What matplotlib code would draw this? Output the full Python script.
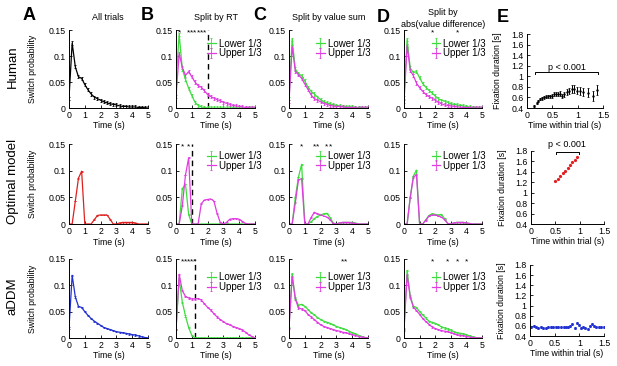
import matplotlib
matplotlib.use("Agg")
import matplotlib.pyplot as plt

plt.rcParams['font.family'] = ['Liberation Sans', 'DejaVu Sans']
plt.rcParams['font.size'] = 6.3
plt.rcParams['axes.linewidth'] = 0.7

# time bins (s) of the switch-probability curves
TIME_BINS = [0.0, 0.2, 0.4, 0.6, 0.8, 1.0, 1.2, 1.4, 1.6, 1.8, 2.0, 2.2, 2.4,
             2.6, 2.8, 3.0, 3.2, 3.4, 3.6, 3.8, 4.0, 4.2, 4.4, 4.6, 4.8, 5.0]

# --- Human ---
HUMAN_ALL = [0.019, 0.125, 0.079, 0.060, 0.057, 0.045, 0.035, 0.027, 0.021, 0.018, 0.015, 0.012, 0.010,
             0.008, 0.007, 0.006, 0.004, 0.003, 0.003, 0.002, 0.002, 0.002, 0.001, 0.001, 0.0005, 0.0]
HUMAN_RT_LOW = [0.05, 0.142, 0.075, 0.055, 0.038, 0.024, 0.011, 0.005, 0.002, 0.001, 0.0, 0.0, 0.0,
                0.0, 0.0, 0.0, 0.0, 0.0, 0.0, 0.0, 0.0, 0.0, 0.0, 0.0, 0.0, 0.0]
HUMAN_RT_HIGH = [0.022, 0.105, 0.078, 0.063, 0.070, 0.060, 0.050, 0.043, 0.040, 0.033, 0.026, 0.022, 0.019,
                 0.016, 0.014, 0.011, 0.009, 0.007, 0.005, 0.004, 0.003, 0.002, 0.001, 0.0005, 0.0, 0.0]
HUMAN_SUM_LOW = [0.018, 0.132, 0.075, 0.066, 0.062, 0.052, 0.040, 0.032, 0.027, 0.021, 0.016, 0.012, 0.010,
                 0.008, 0.006, 0.005, 0.004, 0.003, 0.002, 0.002, 0.002, 0.001, 0.001, 0.001, 0.0, 0.0]
HUMAN_SUM_HIGH = [0.012, 0.118, 0.071, 0.064, 0.057, 0.046, 0.036, 0.025, 0.018, 0.015, 0.012, 0.009, 0.007,
                  0.005, 0.004, 0.003, 0.003, 0.002, 0.001, 0.001, 0.001, 0.0005, 0.0, 0.0, 0.0, 0.0]
HUMAN_DIFF_LOW = [0.02, 0.132, 0.077, 0.068, 0.070, 0.058, 0.047, 0.040, 0.034, 0.029, 0.023, 0.018, 0.015,
                  0.013, 0.011, 0.008, 0.007, 0.006, 0.005, 0.004, 0.003, 0.002, 0.001, 0.001, 0.0, 0.0]
HUMAN_DIFF_HIGH = [0.012, 0.12, 0.072, 0.062, 0.048, 0.039, 0.032, 0.026, 0.022, 0.019, 0.015, 0.011, 0.008,
                   0.006, 0.005, 0.004, 0.003, 0.002, 0.002, 0.001, 0.001, 0.001, 0.0, 0.0, 0.0, 0.0]

# --- Optimal model ---
MODEL_ALL = [0.0, 0.0, 0.043, 0.086, 0.099, 0.0, 0.0, 0.0, 0.008, 0.016, 0.017, 0.017, 0.017,
             0.009, 0.0, 0.0, 0.002, 0.003, 0.003, 0.003, 0.003, 0.002, 0.0, 0.0, 0.0, 0.0]
MODEL_RT_LOW = [0.0, 0.0, 0.066, 0.075, 0.018, 0.0, 0.0, 0.0, 0.0, 0.0, 0.0, 0.0, 0.0,
                0.0, 0.0, 0.0, 0.0, 0.0, 0.0, 0.0, 0.0, 0.0, 0.0, 0.0, 0.0, 0.0]
MODEL_RT_HIGH = [0.0, 0.0, 0.034, 0.092, 0.124, 0.0, 0.0, 0.0, 0.038, 0.045, 0.046, 0.047, 0.043,
                 0.02, 0.003, 0.0, 0.003, 0.009, 0.010, 0.010, 0.009, 0.005, 0.001, 0.0, 0.0, 0.0]
MODEL_SUM_LOW = [0.0, 0.0, 0.05, 0.088, 0.112, 0.0, 0.0, 0.004, 0.010, 0.014, 0.017, 0.019, 0.020,
                 0.012, 0.002, 0.0, 0.002, 0.003, 0.003, 0.003, 0.003, 0.002, 0.0, 0.0, 0.0, 0.0]
MODEL_SUM_HIGH = [0.0, 0.0, 0.04, 0.083, 0.085, 0.0, 0.0, 0.012, 0.022, 0.019, 0.017, 0.015, 0.013,
                  0.008, 0.001, 0.0, 0.002, 0.003, 0.003, 0.003, 0.002, 0.001, 0.0, 0.0, 0.0, 0.0]
MODEL_DIFF_LOW = [0.0, 0.0, 0.05, 0.09, 0.101, 0.0, 0.0, 0.008, 0.016, 0.019, 0.018, 0.017, 0.018,
                  0.010, 0.001, 0.0, 0.002, 0.003, 0.003, 0.003, 0.002, 0.001, 0.0, 0.0, 0.0, 0.0]
MODEL_DIFF_HIGH = [0.0, 0.0, 0.05, 0.087, 0.093, 0.0, 0.0, 0.007, 0.015, 0.017, 0.017, 0.015, 0.013,
                   0.008, 0.001, 0.0, 0.002, 0.003, 0.003, 0.003, 0.002, 0.001, 0.0, 0.0, 0.0, 0.0]

# --- aDDM ---
ADDM_ALL = [0.019, 0.119, 0.078, 0.060, 0.058, 0.050, 0.043, 0.037, 0.032, 0.028, 0.024, 0.020, 0.018,
            0.016, 0.014, 0.012, 0.011, 0.010, 0.009, 0.0075, 0.0065, 0.0055, 0.004, 0.002, 0.001, 0.0]
ADDM_RT_LOW = [0.016, 0.112, 0.068, 0.042, 0.020, 0.005, 0.0, 0.0, 0.0, 0.0, 0.0, 0.0, 0.0,
               0.0, 0.0, 0.0, 0.0, 0.0, 0.0, 0.0, 0.0, 0.0, 0.0, 0.0, 0.0, 0.0]
ADDM_RT_HIGH = [0.016, 0.121, 0.090, 0.079, 0.076, 0.074, 0.074, 0.075, 0.072, 0.065, 0.058, 0.053, 0.046,
                0.040, 0.035, 0.031, 0.027, 0.025, 0.022, 0.020, 0.018, 0.015, 0.011, 0.006, 0.003, 0.0]
ADDM_SUM_LOW = [0.02, 0.122, 0.076, 0.062, 0.064, 0.060, 0.054, 0.048, 0.044, 0.039, 0.035, 0.032, 0.030,
                0.028, 0.025, 0.022, 0.020, 0.018, 0.016, 0.013, 0.010, 0.008, 0.005, 0.003, 0.001, 0.0]
ADDM_SUM_HIGH = [0.018, 0.117, 0.074, 0.057, 0.055, 0.052, 0.045, 0.040, 0.035, 0.030, 0.025, 0.022, 0.020,
                 0.018, 0.016, 0.014, 0.013, 0.011, 0.010, 0.008, 0.0065, 0.005, 0.003, 0.002, 0.001, 0.0]
ADDM_DIFF_LOW = [0.017, 0.128, 0.080, 0.060, 0.058, 0.050, 0.044, 0.038, 0.032, 0.030, 0.028, 0.025, 0.021,
                 0.019, 0.017, 0.015, 0.012, 0.010, 0.009, 0.008, 0.006, 0.004, 0.002, 0.001, 0.0, 0.0]
ADDM_DIFF_HIGH = [0.015, 0.120, 0.077, 0.059, 0.052, 0.045, 0.037, 0.031, 0.026, 0.021, 0.018, 0.016, 0.014,
                  0.013, 0.012, 0.010, 0.008, 0.006, 0.005, 0.0045, 0.003, 0.002, 0.001, 0.0005, 0.0, 0.0]

# typical error bar half-size per row (human, optimal model, aDDM)
ROW_SEM = [0.003, 0.0008, 0.0012]

# RT split point (s) per row and significant bins
RT_CUTOFF = [2.0, 1.0, 1.2]
SIG_RT = [[0.2, 0.8, 1.0, 1.2, 1.4, 1.6, 1.8], [0.4, 0.8], [0.4, 0.6, 0.8, 1.0, 1.2]]
SIG_SUM = [[], [0.8, 1.6, 1.8, 2.4, 2.6], [3.4, 3.6]]
SIG_DIFF = [[1.8, 3.4], [], [1.8, 2.8, 3.4, 4.0]]

# --- E: fixation duration vs time within trial ---
E_HUMAN_T = [0.145, 0.19, 0.22, 0.255, 0.30, 0.335, 0.375, 0.41, 0.45, 0.49, 0.53, 0.57, 0.61,
             0.65, 0.69, 0.73, 0.78, 0.835, 0.88, 0.93, 0.98, 1.05, 1.11, 1.21, 1.30, 1.39]
E_HUMAN_DUR = [0.44, 0.50, 0.53, 0.57, 0.58, 0.60, 0.61, 0.62, 0.62, 0.63, 0.66, 0.67, 0.66,
               0.67, 0.63, 0.66, 0.70, 0.72, 0.76, 0.76, 0.73, 0.72, 0.70, 0.69, 0.63, 0.74]
E_HUMAN_ERR = [0.02, 0.02, 0.02, 0.02, 0.03, 0.03, 0.03, 0.03, 0.03, 0.04, 0.04, 0.04, 0.04,
               0.05, 0.04, 0.05, 0.06, 0.06, 0.07, 0.08, 0.07, 0.07, 0.07, 0.08, 0.09, 0.10]
E_MODEL_T = [0.5, 0.55, 0.6, 0.65, 0.7, 0.75, 0.8, 0.85, 0.9, 0.95]
E_MODEL_DUR = [1.22, 1.27, 1.32, 1.37, 1.42, 1.48, 1.53, 1.58, 1.63, 1.68]
E_ADDM_T = [0.03, 0.08, 0.12, 0.17, 0.22, 0.27, 0.32, 0.37, 0.42, 0.47, 0.53, 0.57, 0.62, 0.68, 0.72, 0.78,
            0.82, 0.86, 0.91, 0.95, 0.99, 1.03, 1.08, 1.12, 1.17, 1.22, 1.26, 1.30, 1.34, 1.39, 1.44, 1.49]
E_ADDM_DUR = [0.57, 0.60, 0.58, 0.56, 0.58, 0.56, 0.56, 0.57, 0.58, 0.57, 0.58, 0.57, 0.57, 0.58, 0.58, 0.58,
              0.60, 0.63, 0.56, 0.65, 0.61, 0.56, 0.58, 0.55, 0.54, 0.60, 0.63, 0.60, 0.57, 0.58, 0.58, 0.57]
E_BRACKETS = [(0.16, 1.40, 1.075, 0.78, 1.17), (0.52, 0.99, 1.79, 0.74, 1.93), None]

ROW_NAMES = ['Human', 'Optimal model', 'aDDM']
ROW_ALL = [HUMAN_ALL, MODEL_ALL, ADDM_ALL]
ROW_RT = [(HUMAN_RT_LOW, HUMAN_RT_HIGH), (MODEL_RT_LOW, MODEL_RT_HIGH), (ADDM_RT_LOW, ADDM_RT_HIGH)]
ROW_SUM = [(HUMAN_SUM_LOW, HUMAN_SUM_HIGH), (MODEL_SUM_LOW, MODEL_SUM_HIGH), (ADDM_SUM_LOW, ADDM_SUM_HIGH)]
ROW_DIFF = [(HUMAN_DIFF_LOW, HUMAN_DIFF_HIGH), (MODEL_DIFF_LOW, MODEL_DIFF_HIGH), (ADDM_DIFF_LOW, ADDM_DIFF_HIGH)]

ALL_COLORS = ['black', '#e02020', '#2030d0']
GREEN = '#3ddc3d'
MAGENTA = '#e03ce0'

W, H = 617, 366

# layout in pixels
ROW_TOP = [30, 144, 259]
ROW_H = [78, 80, 79]
COL_LEFT = [69, 176, 289, 404]
COL_W = [79, 79, 79, 78]
E_LEFT = [527, 531, 530]
E_W = [76, 73, 74]
E_TOP = [34, 151, 265]
E_H = [74, 73, 71]
LEG_X = [1.08, 1.03, 1.05]
LEG_Y = [0.89, 0.91, 0.83]


def px_axes(fig, left, top, width, height):
    return fig.add_axes([left / W, 1 - (top + height) / H, width / W, height / H])


def style(ax):
    ax.spines['top'].set_visible(False)
    ax.spines['right'].set_visible(False)
    ax.tick_params(direction='in', length=2, width=0.6, pad=2.5, labelsize=6.3)


def switch_panel(ax, series, colors, sem):
    handles = []
    for vals, c in zip(series, colors):
        h = ax.errorbar(TIME_BINS, vals, yerr=sem, color=c, lw=0.9, elinewidth=0.6,
                        capsize=1.0, capthick=0.6)
        handles.append(h)
    ax.set_xlim(0, 5)
    ax.set_ylim(0, 0.15)
    ax.set_xticks([0, 1, 2, 3, 4, 5])
    ax.set_yticks([0, 0.05, 0.1, 0.15])
    ax.set_yticklabels(['0', '0.05', '0.1', '0.15'])
    ax.set_xlabel('Time (s)', fontsize=6.3)
    ax.xaxis.set_label_coords(0.5, -0.17)
    style(ax)
    return handles


def stars(ax, times):
    for t in times:
        ax.text(t, 0.141, '*', ha='center', va='baseline', fontsize=6, clip_on=False)


fig = plt.figure(figsize=(W / 100, H / 100), dpi=100)

for r in range(3):
    top, hgt = ROW_TOP[r], ROW_H[r]
    # A: all trials
    axA = px_axes(fig, COL_LEFT[0], top, COL_W[0], hgt)
    switch_panel(axA, [ROW_ALL[r]], [ALL_COLORS[r]], ROW_SEM[r])
    axA.set_ylabel('Switch probability', fontsize=6.3)
    axA.yaxis.set_label_coords(-0.40, 0.5)
    fig.text(13 / W, 1 - (top + hgt * 0.47) / H, ROW_NAMES[r], rotation=90,
             ha='center', va='center', fontsize=9.5)

    # B, C, D: splits
    for col, (pair, sig) in enumerate(zip([ROW_RT[r], ROW_SUM[r], ROW_DIFF[r]],
                                          [SIG_RT[r], SIG_SUM[r], SIG_DIFF[r]])):
        ax = px_axes(fig, COL_LEFT[col + 1], top, COL_W[col + 1], hgt)
        if col == 0:
            ax.axvline(RT_CUTOFF[r], color='black', lw=1.0, ls=(0, (4, 3)))
        hs = switch_panel(ax, pair, [GREEN, MAGENTA], ROW_SEM[r])
        stars(ax, sig)
        ax.legend(hs, ['Lower 1/3', 'Upper 1/3'], loc='upper right',
                  bbox_to_anchor=(LEG_X[col], LEG_Y[r]), frameon=False, fontsize=7,
                  handlelength=0.9, handletextpad=0.3, labelspacing=-0.05,
                  borderpad=0, borderaxespad=0)

    # E: fixation duration
    axE = px_axes(fig, E_LEFT[r], E_TOP[r], E_W[r], E_H[r])
    if r == 0:
        axE.errorbar(E_HUMAN_T, E_HUMAN_DUR, yerr=E_HUMAN_ERR, color='black', ls='none',
                     marker='.', ms=1.5, elinewidth=0.7, capsize=0.8, capthick=0.5)
    elif r == 1:
        axE.plot(E_MODEL_T, E_MODEL_DUR, ls='none', marker='o', ms=1.3, color='#e02020')
    else:
        axE.errorbar(E_ADDM_T, E_ADDM_DUR, yerr=0.02, color='#2030d0', ls='none',
                     marker='.', ms=2, elinewidth=0.6, capsize=0.6, capthick=0.5)
    axE.set_xlim(0, 1.5)
    axE.set_ylim(0.4, 1.8)
    axE.set_xticks([0, 0.5, 1, 1.5])
    axE.set_xticklabels(['0', '0.5', '1', '1.5'])
    axE.set_yticks([0.4, 0.6, 0.8, 1.0, 1.2, 1.4, 1.6, 1.8])
    axE.set_yticklabels(['0.4', '0.6', '0.8', '1', '1.2', '1.4', '1.6', '1.8'])
    axE.set_xlabel('Time within trial (s)', fontsize=6.3)
    axE.xaxis.set_label_coords(0.5, -13.5 / E_H[r])
    axE.set_ylabel('Fixation duration [s]', fontsize=6.3)
    axE.yaxis.set_label_coords(-0.33, 0.5)
    style(axE)
    br = E_BRACKETS[r]
    if br is not None:
        x0, x1, yb, xt, yt = br
        axE.plot([x0, x0, x1, x1], [yb - 0.04, yb, yb, yb - 0.04], color='black', lw=0.7,
                 clip_on=False)
        axE.text(xt, yt, 'p < 0.001', ha='center', va='center', fontsize=6.5, clip_on=False)

# titles and panel letters
fig.text(108 / W, 1 - 17 / H, 'All trials', ha='center', va='center', fontsize=6.5)
fig.text(216 / W, 1 - 17 / H, 'Split by RT', ha='center', va='center', fontsize=6.5)
fig.text(329 / W, 1 - 17 / H, 'Split by value sum', ha='center', va='center', fontsize=6.5)
fig.text(443 / W, 1 - 18.5 / H, 'Split by\nabs(value difference)', ha='center', va='center',
         fontsize=6.5, linespacing=1.35)
for letter, x, y in [('A', 29, 16), ('B', 147, 16), ('C', 260, 16), ('D', 383, 18), ('E', 503, 18)]:
    fig.text(x / W, 1 - y / H, letter, ha='center', va='center', fontsize=13, fontweight='bold')

fig.savefig('out.png', dpi=100)
